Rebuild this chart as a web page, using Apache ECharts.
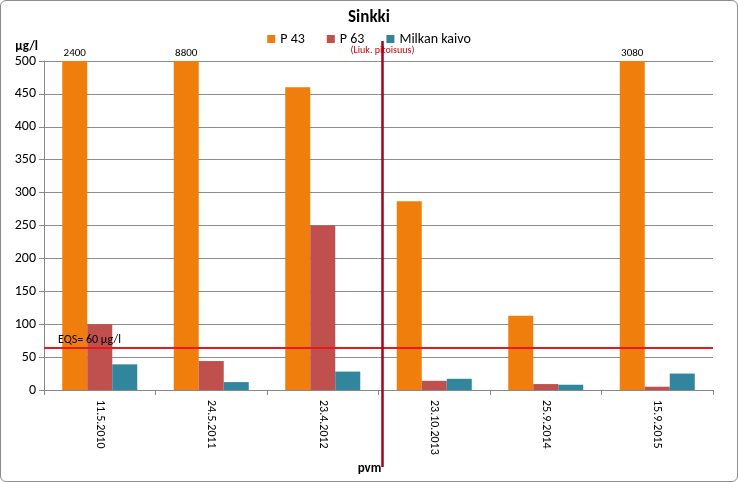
<!DOCTYPE html>
<html><head><meta charset="utf-8">
<script src="https://cdn.jsdelivr.net/npm/echarts@6/dist/echarts.min.js"></script>
<style>html,body{margin:0;padding:0;}#c{width:738px;height:482px;box-sizing:border-box;border:1px solid #8c8c8c;border-radius:6px;}</style>
</head><body><div id="c"></div>
<script>
const categories = ['11.5.2010','24.5.2011','23.4.2012','23.10.2013','25.9.2014','15.9.2015'];
const p43 = [500, 500, 460, 287, 113, 500];
const p43Labels = ['2400','8800','','','','3080'];
const p63 = [100, 44, 250, 14, 9, 5];
const milkan = [39, 12, 28, 17, 8, 25];
const eqs = 64;
const yTicks = [0,50,100,150,200,250,300,350,400,450,500];

const chart = echarts.init(document.getElementById('c'));
const font = 'Calibri, "Liberation Sans", "DejaVu Sans", sans-serif';
chart.setOption({
  animation:false,
  textStyle:{fontFamily:font},
  title:{text:'Sinkki',left:'center',top:3,textStyle:{fontSize:17,fontWeight:'bold',color:'#000'}},
  legend:{top:26,left:'center',itemWidth:8,itemHeight:8,icon:'rect',itemGap:22,textStyle:{fontSize:14,color:'#000'},
    data:['P 43','P 63','Milkan kaivo']},
  grid:{left:43,right:24,top:60,bottom:91},
  xAxis:{type:'category',data:categories,name:'pvm',nameLocation:'middle',nameGap:68,
    nameTextStyle:{fontWeight:'bold',fontSize:13,color:'#000',padding:[0,18,0,0]},
    axisTick:{show:true,alignWithLabel:false,length:5,lineStyle:{color:'#888'}},
    axisLine:{lineStyle:{color:'#888'}},
    axisLabel:{rotate:-90,fontSize:12,color:'#000',margin:10}},
  yAxis:{type:'value',min:0,max:500,interval:50,name:'µg/l',nameLocation:'end',nameGap:8,
    nameTextStyle:{fontWeight:'bold',fontSize:13,color:'#000',align:'right',padding:[0,6,0,0]},
    axisLine:{show:true,lineStyle:{color:'#888'}},axisTick:{show:true,lineStyle:{color:'#888'}},
    axisLabel:{fontSize:14,color:'#000',formatter:v=>yTicks.includes(v)?String(v):''},
    splitLine:{lineStyle:{color:'#8c8c8c'}}},
  series:[
    {name:'P 43',type:'bar',data:p43,barWidth:25,barGap:'0%',itemStyle:{color:'#F07E0C'},
      label:{show:true,position:'top',fontSize:11,color:'#000',distance:2,formatter:p=>p43Labels[p.dataIndex]},
      markLine:{silent:true,symbol:'none',data:[{yAxis:eqs}],lineStyle:{color:'#E8191A',width:2,type:'solid'},
        label:{show:false}}},
    {name:'P 63',type:'bar',data:p63,barWidth:25,itemStyle:{color:'#C0504D'}},
    {name:'Milkan kaivo',type:'bar',data:milkan,barWidth:25,itemStyle:{color:'#31859C'}}
  ]
});
const yE = chart.convertToPixel({yAxisIndex:0},eqs);
const x2 = chart.convertToPixel({xAxisIndex:0},categories[2]);
const x3 = chart.convertToPixel({xAxisIndex:0},categories[3]);
const xd = (x2+x3)/2 + 4;
chart.setOption({graphic:[
  {type:'line',shape:{x1:xd,y1:40,x2:xd,y2:466},style:{stroke:'#A50021',lineWidth:2.5},z:100},
  {type:'text',x:xd,y:44,style:{text:'(Liuk. pitoisuus)',fill:'#C00000',fontSize:10,align:'center',fontFamily:font},z:100},
  {type:'text',x:57,y:yE-14,style:{text:'EQS= 60 µg/l',fill:'#000',fontSize:12,fontFamily:font},z:100}
]});
</script></body></html>
